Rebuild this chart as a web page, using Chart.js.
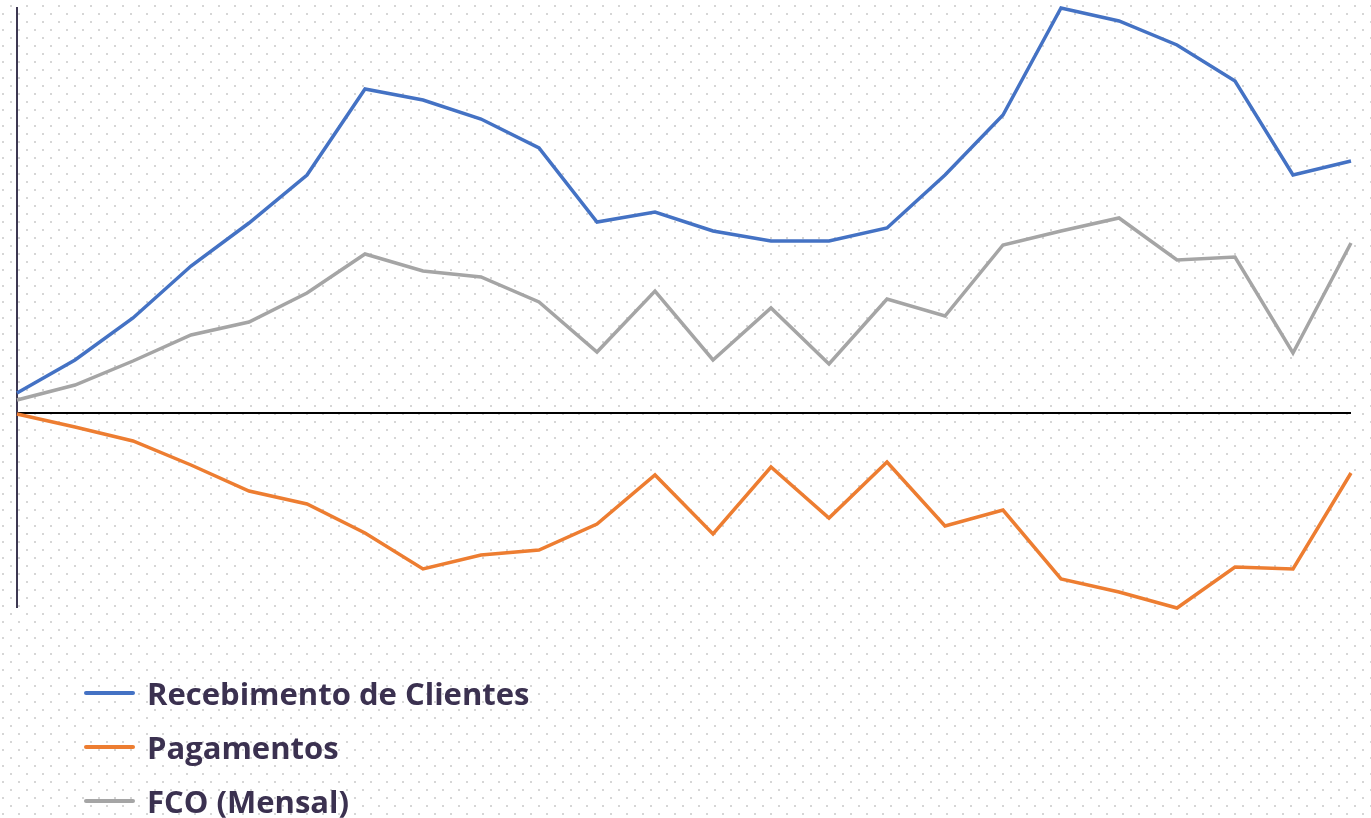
<!DOCTYPE html>
<html>
<head>
<meta charset="utf-8">
<script src="https://cdn.jsdelivr.net/npm/chart.js@4/dist/chart.umd.min.js"></script>
<style>
  html, body { margin: 0; padding: 0; background: #fff; }
  #wrap { position: relative; width: 1371px; height: 818px; overflow: hidden; }
  #chart { position: absolute; left: 0; top: 0; }
  #legend { position: absolute; left: 84px; top: 666px; font-family: "Open Sans", Lato, sans-serif; font-weight: bold; font-size: 31px; color: #3b3150; }
  .item { display: flex; align-items: center; height: 54px; }
  .swatch { width: 51px; height: 4px; border-radius: 2px; margin-right: 12px; }
</style>
</head>
<body>
<div id="wrap">
  <canvas id="chart" width="1371" height="818"></canvas>
  <div id="legend"></div>
</div>
<script>
// 24 months, values
const months = ['1','2','3','4','5','6','7','8','9','10','11','12','13','14','15','16','17','18','19','20','21','22','23','24'];
const recebimentos = [20, 53, 95, 147, 190, 238, 324, 313, 294, 265, 191, 201, 182, 172, 172, 185, 238, 298, 405, 392, 368, 332, 238, 252];
const pagamentos = [-1, -14, -28, -52, -78, -91, -120, -156, -142, -137, -111, -62, -121, -54, -105, -49, -113, -97, -166, -179, -195, -154, -156, -60];
const fco = [13, 28, 52, 78, 91, 120, 159, 142, 136, 111, 61, 122, 53, 105, 49, 114, 97, 168, 182, 195, 153, 156, 60, 170];

// dotted background like the original sheet
const dotsPlugin = {
    id: 'dots',
    beforeDraw(chart) {
        const c = chart.ctx;
        c.save();
        c.fillStyle = '#d6d6d6';
        for (let y = 5, row = 0; y < chart.height; y += 8, row++) {
            let start = row % 2 === 0 ? 10 : 2;
            for (let x = start; x < chart.width; x += 16) {
                c.fillRect(x, y, 2, 2);
            }
        }
        c.restore();
    }
};

const ctx = document.getElementById('chart').getContext('2d');
const chart = new Chart(ctx, {
    type: 'line',
    data: {
        labels: months,
        datasets: [
            { label: 'Recebimento de Clientes', data: recebimentos, borderColor: '#4472C4' },
            { label: 'Pagamentos', data: pagamentos, borderColor: '#ED7D31' },
            { label: 'FCO (Mensal)', data: fco, borderColor: '#A5A5A5' }
        ]
    },
    options: {
        responsive: false,
        animation: false,
        layout: { padding: { left: 17, right: 20, top: 8, bottom: 211 } },
        elements: {
            point: { radius: 0 },
            line: { borderWidth: 3.5, tension: 0 }
        },
        datasets: { line: { clip: false } },
        plugins: {
            legend: { display: false },
            tooltip: { enabled: false }
        },
        scales: {
            x: { display: false },
            y: {
                min: -194,
                max: 405,
                afterBuildTicks: (scale) => { scale.ticks = [{ value: 0 }]; },
                ticks: { display: false },
                border: { display: true, color: '#3d3852', width: 2 },
                grid: {
                    drawTicks: false,
                    lineWidth: 2,
                    color: (c) => (c.tick && c.tick.value === 0) ? '#000' : 'rgba(0,0,0,0)'
                }
            }
        }
    },
    plugins: [dotsPlugin]
});

// legend as a vertical list under the chart
const legend = document.getElementById('legend');
chart.data.datasets.forEach(ds => {
    const item = document.createElement('div');
    item.className = 'item';
    const sw = document.createElement('span');
    sw.className = 'swatch';
    sw.style.background = ds.borderColor;
    const txt = document.createElement('span');
    txt.textContent = ds.label;
    item.appendChild(sw);
    item.appendChild(txt);
    legend.appendChild(item);
});
</script>
</body>
</html>
